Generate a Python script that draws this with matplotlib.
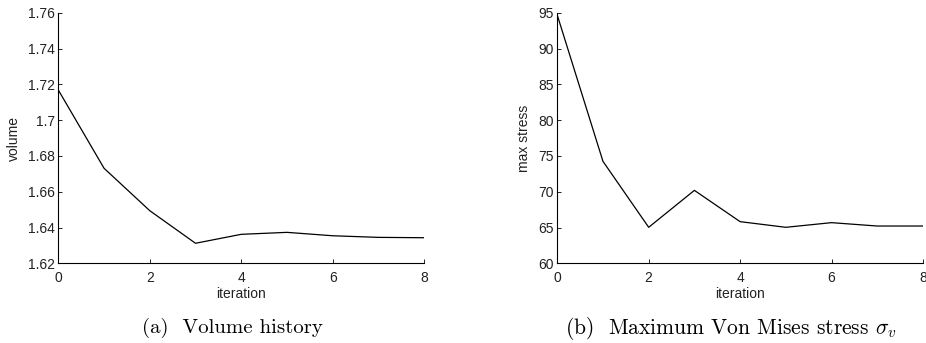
import matplotlib
matplotlib.use("Agg")
import matplotlib.pyplot as plt

iterations = [0, 1, 2, 3, 4, 5, 6, 7, 8]
volume = [1.7168, 1.6731, 1.6494, 1.6312, 1.6362, 1.6373, 1.6354, 1.6345, 1.6343]
max_stress = [94.67, 74.24, 65.03, 70.19, 65.82, 65.03, 65.68, 65.21, 65.21]

vol_ticks = [1.62, 1.64, 1.66, 1.68, 1.7, 1.72, 1.74, 1.76]
vol_labels = ["1.62", "1.64", "1.66", "1.68", "1.7", "1.72", "1.74", "1.76"]
stress_ticks = [60, 65, 70, 75, 80, 85, 90, 95]
x_ticks = [0, 2, 4, 6, 8]

plt.rcParams["font.family"] = ["Liberation Sans", "DejaVu Sans"]
plt.rcParams["mathtext.fontset"] = "cm"

fig = plt.figure(figsize=(9.26, 3.43), dpi=100)
ax1 = fig.add_axes([0.063, 0.2323, 0.395, 0.7306])
ax2 = fig.add_axes([0.6018, 0.2323, 0.3949, 0.7306])


def style(ax, ylabel):
    ax.spines["top"].set_visible(False)
    ax.spines["right"].set_visible(False)
    for s in ("left", "bottom"):
        ax.spines[s].set_linewidth(0.8)
    ax.tick_params(direction="in", length=3, width=0.6, labelsize=10,
                   labelcolor="#222")
    ax.tick_params(axis="y", pad=2.5)
    ax.tick_params(axis="x", pad=5.5)
    ax.set_xlim(0, 8)
    ax.set_xticks(x_ticks)
    ax.set_xlabel("iteration", fontsize=10, labelpad=1.5, color="#222")
    ax.set_ylabel(ylabel, fontsize=10, labelpad=5, color="#222")


ax1.plot(iterations, volume, color="black", lw=0.9)
style(ax1, "volume")
ax1.set_ylim(1.62, 1.76)
ax1.set_yticks(vol_ticks)
ax1.set_yticklabels(vol_labels)

ax2.plot(iterations, max_stress, color="black", lw=0.9)
style(ax2, "max stress")
ax2.set_ylim(60, 95)
ax2.set_yticks(stress_ticks)
for lab in ax2.get_xticklabels():
    lab.set_clip_on(False)

fig.text(232 / 926, 1 - 328 / 343, "(a)  Volume history", family="cmr10",
         fontsize=15, ha="center", va="center")
fig.text(731 / 926, 1 - 328 / 343, r"(b)  Maximum Von Mises stress $\sigma_v$",
         family="cmr10", fontsize=15.5, ha="center", va="center")

fig.savefig("out.png", dpi=100)
